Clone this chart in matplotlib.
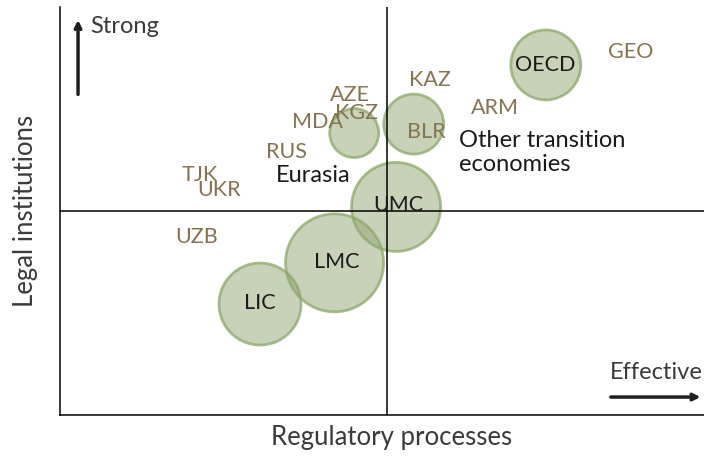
import matplotlib
matplotlib.use("Agg")
import matplotlib.pyplot as plt

plt.rcParams['font.family'] = ['Lato', 'DejaVu Sans']

# groups shown as bubbles: x = regulatory processes, y = legal institutions
groups = ['OECD', 'UMC', 'LMC', 'LIC']
group_x = [74.3, 51.4, 42.0, 30.6]
group_y = [85.8, 51.0, 37.3, 27.2]
group_r = [35, 44.5, 49, 41]
label_x = [74.2, 51.7, 42.4, 30.6]
label_y = [85.8, 51.5, 37.5, 27.5]

# bubbles without their own label (Eurasia / other transition clusters)
cluster_x = [54.1, 45.0]
cluster_y = [71.3, 69.1]
cluster_r = [30, 24.5]

# countries
countries = ['AZE', 'KGZ', 'MDA', 'RUS', 'TJK', 'UKR', 'UZB', 'KAZ', 'ARM', 'BLR', 'GEO']
country_x = [44.3, 45.4, 39.3, 34.6, 21.4, 24.3, 20.9, 56.6, 66.5, 56.0, 87.3]
country_y = [78.4, 74.0, 71.8, 64.5, 58.8, 55.1, 43.6, 82.1, 75.2, 69.4, 89.0]

fig = plt.figure(figsize=(7.04, 4.59), dpi=100)
ax = fig.add_axes([60 / 704, 44 / 459, 644 / 704, 408 / 459])
ax.set_xlim(0, 98.5)
ax.set_ylim(0, 100)

fill = (0.576, 0.655, 0.451, 0.5)
edge = (0.55, 0.66, 0.42, 0.75)

def r2s(r):
    return (2 * r * 72 / 100) ** 2

ax.scatter(cluster_x, cluster_y, s=[r2s(r) for r in cluster_r],
           facecolors=[fill], edgecolors=[edge], linewidths=2, zorder=2)
ax.scatter(group_x, group_y, s=[r2s(r) for r in group_r],
           facecolors=[fill], edgecolors=[edge], linewidths=2, zorder=2)

ax.axvline(50, color='black', lw=1.1, zorder=3)
ax.axhline(50, color='black', lw=1.1, zorder=3)

brown = '#857452'
for name, x, y in zip(countries, country_x, country_y):
    ax.text(x, y, name, color=brown, fontsize=15.5, ha='center', va='center', zorder=4)

for name, x, y in zip(groups, label_x, label_y):
    ax.text(x, y, name, color='#1a1a1a', fontsize=15.5, ha='center', va='center', zorder=4)

ax.text(38.7, 58.6, 'Eurasia', color='#1a1a1a', fontsize=17, ha='center', va='center', zorder=4)
ax.text(61.0, 64.3, 'Other transition\neconomies', color='#1a1a1a', fontsize=17,
        ha='left', va='center', linespacing=1.2, zorder=4)

# direction arrows
dark = '#3a3a3a'
ax.annotate('', xy=(0.028, 0.975), xytext=(0.028, 0.779), xycoords='axes fraction',
            arrowprops=dict(arrowstyle='->', lw=2.5, color='#231f20'))
ax.text(0.047, 0.953, 'Strong', transform=ax.transAxes, fontsize=17,
        color=dark, ha='left', va='center')
ax.annotate('', xy=(0.999, 0.044), xytext=(0.851, 0.044), xycoords='axes fraction',
            arrowprops=dict(arrowstyle='->', lw=2.5, color='#231f20'))
ax.text(0.998, 0.104, 'Effective', transform=ax.transAxes, fontsize=17,
        color=dark, ha='right', va='center')

for side in ['top', 'right']:
    ax.spines[side].set_visible(False)
for side in ['left', 'bottom']:
    ax.spines[side].set_linewidth(1.1)
ax.set_xticks([])
ax.set_yticks([])

ax.set_xlabel('Regulatory processes', fontsize=18.5, color=dark)
ax.xaxis.set_label_coords(0.515, -0.025, transform=ax.transAxes)
ax.xaxis.label.set_va('top')
ax.set_ylabel('Legal institutions', fontsize=18.5, color=dark, labelpad=16)

fig.savefig('out.png', dpi=100)
